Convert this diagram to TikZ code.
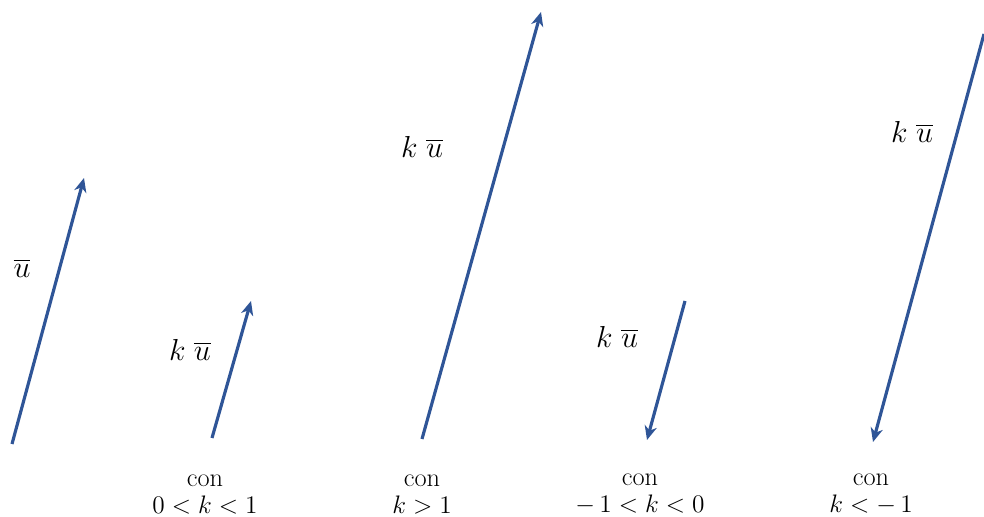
\documentclass[tikz,border=0pt]{standalone}
\usepackage{amsmath, amssymb}
\usepackage{tikz}
\usetikzlibrary{arrows.meta,positioning}
\usepackage{xcolor}
\definecolor{vecblue}{HTML}{2F5597}

\begin{document}
\begin{tikzpicture}[
        vecarrow/.style={-{Stealth[length=8pt,width=7pt,inset=2.5pt]}, line width=1.8pt, vecblue},
        vlabel/.style={font=\fontsize{16.5}{19}\selectfont},
        cond/.style={align=center, inner sep=0.5pt, font=\fontsize{15}{15.5}\selectfont}
    ]
        \useasboundingbox (0,0) rectangle (19.68,10.34);

        % Extremos de los vectores
        \coordinate (a0) at (0.24,1.46);   \coordinate (a1) at (1.68,6.78);
        \coordinate (b0) at (4.24,1.58);   \coordinate (b1) at (5.02,4.32);
        \coordinate (c0) at (8.44,1.56);   \coordinate (c1) at (10.82,10.10);
        \coordinate (d0) at (13.70,4.32);  \coordinate (d1) at (12.94,1.54);
        \coordinate (e0) at (19.68,9.66);  \coordinate (e1) at (17.46,1.50);

        % Vectores
        \draw[vecarrow] (a0) -- (a1);
        \draw[vecarrow] (b0) -- (b1);
        \draw[vecarrow] (c0) -- (c1);
        \draw[vecarrow] (d0) -- (d1);
        \draw[vecarrow] (e0) -- (e1);

        % Etiquetas
        \node[vlabel] (lu) at (0.44,4.98) {$\overline{u}$};
        \node[vlabel] (lb) at (3.80,3.34) {$k\;\overline{u}$};
        \node[vlabel] (lc) at (8.44,7.40) {$k\;\overline{u}$};
        \node[vlabel] (ld) at (12.34,3.60) {$k\;\overline{u}$};
        \node[vlabel] (le) at (18.24,7.70) {$k\;\overline{u}$};

        % Condiciones
        \node[cond] (cb) at (4.10,0.45) {con\\$0<k<1$};
        \node[cond] (cc) at (8.44,0.45) {con\\$k>1$};
        \node[cond] (cd) at (12.80,0.45) {con\\$-\,1<k<0$};
        \node[cond] (ce) at (17.42,0.45) {con\\$k<-\,1$};
    \end{tikzpicture}
\end{document}
